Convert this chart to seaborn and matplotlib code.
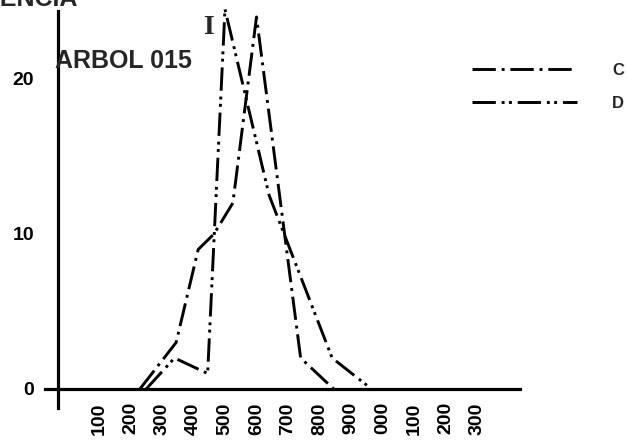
import matplotlib
matplotlib.use("Agg")
import matplotlib.pyplot as plt
import pandas as pd
import seaborn as sns

# ---- data ----
series_names = ["C", "D"]
c_x = [230, 345, 415, 465, 525, 600, 740, 845]
c_y = [0, 3, 9, 10, 12, 24, 2, 0]
d_x = [250, 340, 445, 500, 640, 840, 965]
d_y = [0, 2, 1, 24.5, 12.5, 2, 0]
x_tick_values = [100, 200, 300, 400, 500, 600, 700, 800, 900, 1000, 1100, 1200, 1300]
x_tick_labels = ["100", "200", "300", "400", "500", "600", "700", "800", "900",
                 "000", "100", "200", "300"]
y_major_ticks = [0, 10, 20]
y_minor_ticks = [2, 4, 6, 8, 12, 14, 16, 18, 22, 24]
title_text = "I"
subtitle_text = "ARBOL 015"
cut_text = "FRECUENCIA"

df = pd.DataFrame({
    "x": c_x + d_x,
    "y": c_y + d_y,
    "serie": [series_names[0]] * len(c_x) + [series_names[1]] * len(d_x),
})

sns.set_style("white")
plt.rcParams["font.family"] = ["Liberation Sans", "DejaVu Sans"]

W, H = 627, 446
fig = plt.figure(figsize=(W / 100, H / 100), dpi=100)
ax = fig.add_axes([45 / W, 0.0861, 475 / W, 0.8897])

sns.lineplot(
    data=df, x="x", y="y", hue="serie", style="serie",
    palette={"C": "black", "D": "black"},
    dashes={"C": (8, 2, 1, 2), "D": (8, 2, 1, 1.5, 1, 2)},
    linewidth=2.1, sort=False, estimator=None, ax=ax, legend=True,
)
for ln in ax.lines:
    ln.set_clip_on(False)

ax.set_xlim(-71, 1436)
ax.set_ylim(-1.2, 24.4)

for s in ["top", "right"]:
    ax.spines[s].set_visible(False)
ax.spines["left"].set_position(("data", -30))
ax.spines["bottom"].set_position(("data", 0))
for s in ["left", "bottom"]:
    ax.spines[s].set_linewidth(2.3)
    ax.spines[s].set_color("black")

ax.set_xticks(x_tick_values)
ax.set_xticklabels(x_tick_labels, rotation=90, fontsize=14, fontweight="bold")
ax.set_yticks(y_major_ticks)
ax.set_yticklabels([str(v) for v in y_major_ticks], fontsize=14, fontweight="bold")
ax.set_yticks(y_minor_ticks, minor=True)
ax.tick_params(axis="x", direction="out", length=4.5, width=1.6, pad=5, colors="black")
ax.tick_params(axis="y", which="major", direction="out", length=13, width=1.8, pad=4, colors="black")
ax.tick_params(axis="y", which="minor", direction="out", length=3.5, width=1.6)
ax.set_xlabel("")
ax.set_ylabel("")
ax.grid(False)

handles, labels = ax.get_legend_handles_labels()
ax.legend(
    handles, labels,
    loc="upper left", bbox_to_anchor=(472 / W, 1 - 63 / H), bbox_transform=fig.transFigure,
    frameon=False, borderpad=0, borderaxespad=0,
    handlelength=6.3, handletextpad=2.1, labelspacing=1.05,
    prop={"weight": "bold", "size": 12},
)

fig.text(208 / W, 1 - 27 / H, title_text, family=["Liberation Serif", "DejaVu Serif"],
         fontweight="bold", fontsize=20, ha="center", va="center")
fig.text(55 / W, 1 - 68 / H, subtitle_text, fontweight="bold", fontsize=18,
         ha="left", va="baseline")
fig.text(78 / W, 1 - 6 / H, cut_text, fontweight="bold", fontsize=18,
         ha="right", va="baseline")

fig.savefig("out.png", dpi=100, facecolor="white")
